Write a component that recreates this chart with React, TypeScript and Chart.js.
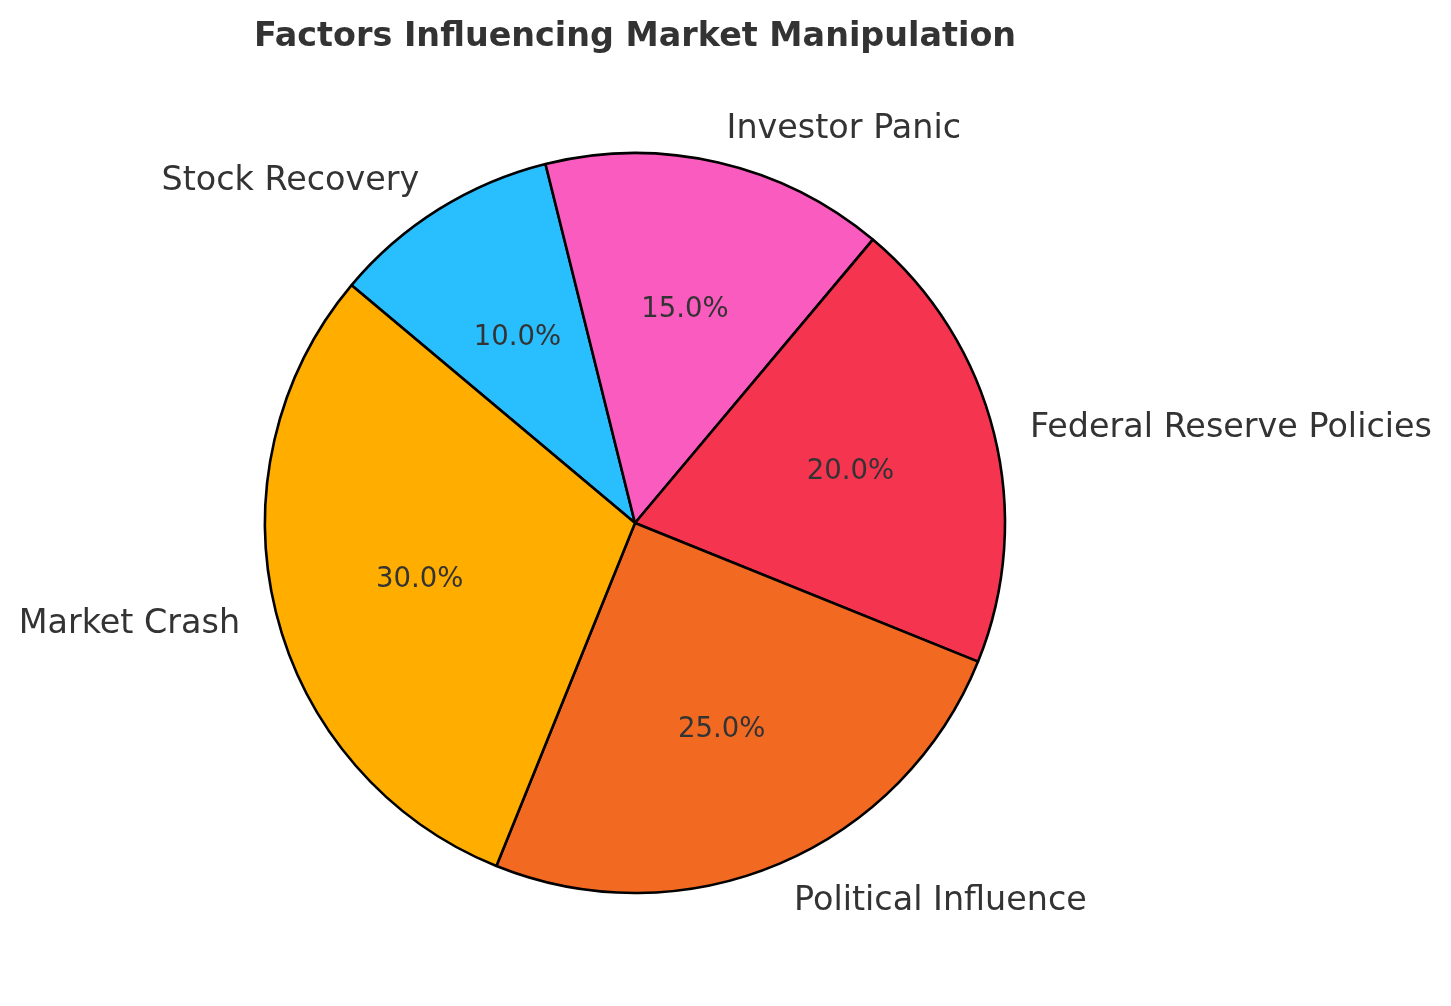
import React, { useEffect, useRef } from "react";
import { Chart, registerables } from "chart.js";

Chart.register(...registerables);

// Clockwise order starting at the Stock Recovery slice
const categories = [
  "Stock Recovery",
  "Investor Panic",
  "Federal Reserve Policies",
  "Political Influence",
  "Market Crash",
];
const values = [10, 15, 20, 25, 30];
const colors = ["#29BEFD", "#F95BBE", "#F5344F", "#F26A22", "#FFAE00"];
const titleText = "Factors Influencing Market Manipulation";

const W = 1451;
const H = 1006;
const FONT = "'DejaVu Sans', sans-serif";
const TEXT_COLOR = "#333333";

const labelPlugin = {
  id: "pieLabels",
  afterDraw(chart: any) {
    const ctx = chart.ctx;
    const meta = chart.getDatasetMeta(0);
    const total = values.reduce((a, b) => a + b, 0);
    ctx.save();
    ctx.fillStyle = TEXT_COLOR;
    ctx.textBaseline = "alphabetic";
    meta.data.forEach((arc: any, i: number) => {
      const { x, y, startAngle, endAngle, outerRadius } = arc.getProps(
        ["x", "y", "startAngle", "endAngle", "outerRadius"],
        true
      );
      const mid = (startAngle + endAngle) / 2;
      const c = Math.cos(mid);
      const s = Math.sin(mid);
      // outer category label
      const lsize = 33.4;
      ctx.font = `${lsize}px ${FONT}`;
      ctx.textAlign = c > 0 ? "left" : "right";
      ctx.fillText(
        categories[i],
        x + c * outerRadius * 1.1,
        y + s * outerRadius * 1.1 + lsize * 0.36
      );
      // percentage label
      const psize = 27.5;
      ctx.font = `${psize}px ${FONT}`;
      ctx.textAlign = "center";
      const pct = ((values[i] / total) * 100).toFixed(1) + "%";
      ctx.fillText(
        pct,
        x + c * outerRadius * 0.6,
        y + s * outerRadius * 0.6 + psize * 0.36
      );
    });
    // title
    ctx.font = `bold 33.4px ${FONT}`;
    ctx.textAlign = "center";
    ctx.fillText(titleText, (chart.chartArea.left + chart.chartArea.right) / 2, 46);
    ctx.restore();
  },
};

export default function App() {
  const ref = useRef<HTMLCanvasElement | null>(null);
  useEffect(() => {
    if (!ref.current) return;
    const chart = new Chart(ref.current, {
      type: "pie",
      data: {
        labels: categories,
        datasets: [
          {
            data: values,
            backgroundColor: colors,
            borderColor: "#000000",
            borderWidth: 2.6,
            hoverOffset: 0,
          },
        ],
      },
      options: {
        responsive: false,
        animation: false,
        devicePixelRatio: 1,
        rotation: -50,
        radius: 370,
        layout: { padding: { left: 100, right: 281, top: 60, bottom: 20 } },
        plugins: {
          legend: { display: false },
          tooltip: { enabled: false },
          title: { display: false },
        },
        events: [],
      },
      plugins: [labelPlugin],
    });
    return () => chart.destroy();
  }, []);
  return (
    <div style={{ position: "absolute", left: 0, top: 0, width: W, height: H, background: "#fff" }}>
      <canvas ref={ref} width={W} height={H} style={{ width: W, height: H }} />
    </div>
  );
}
